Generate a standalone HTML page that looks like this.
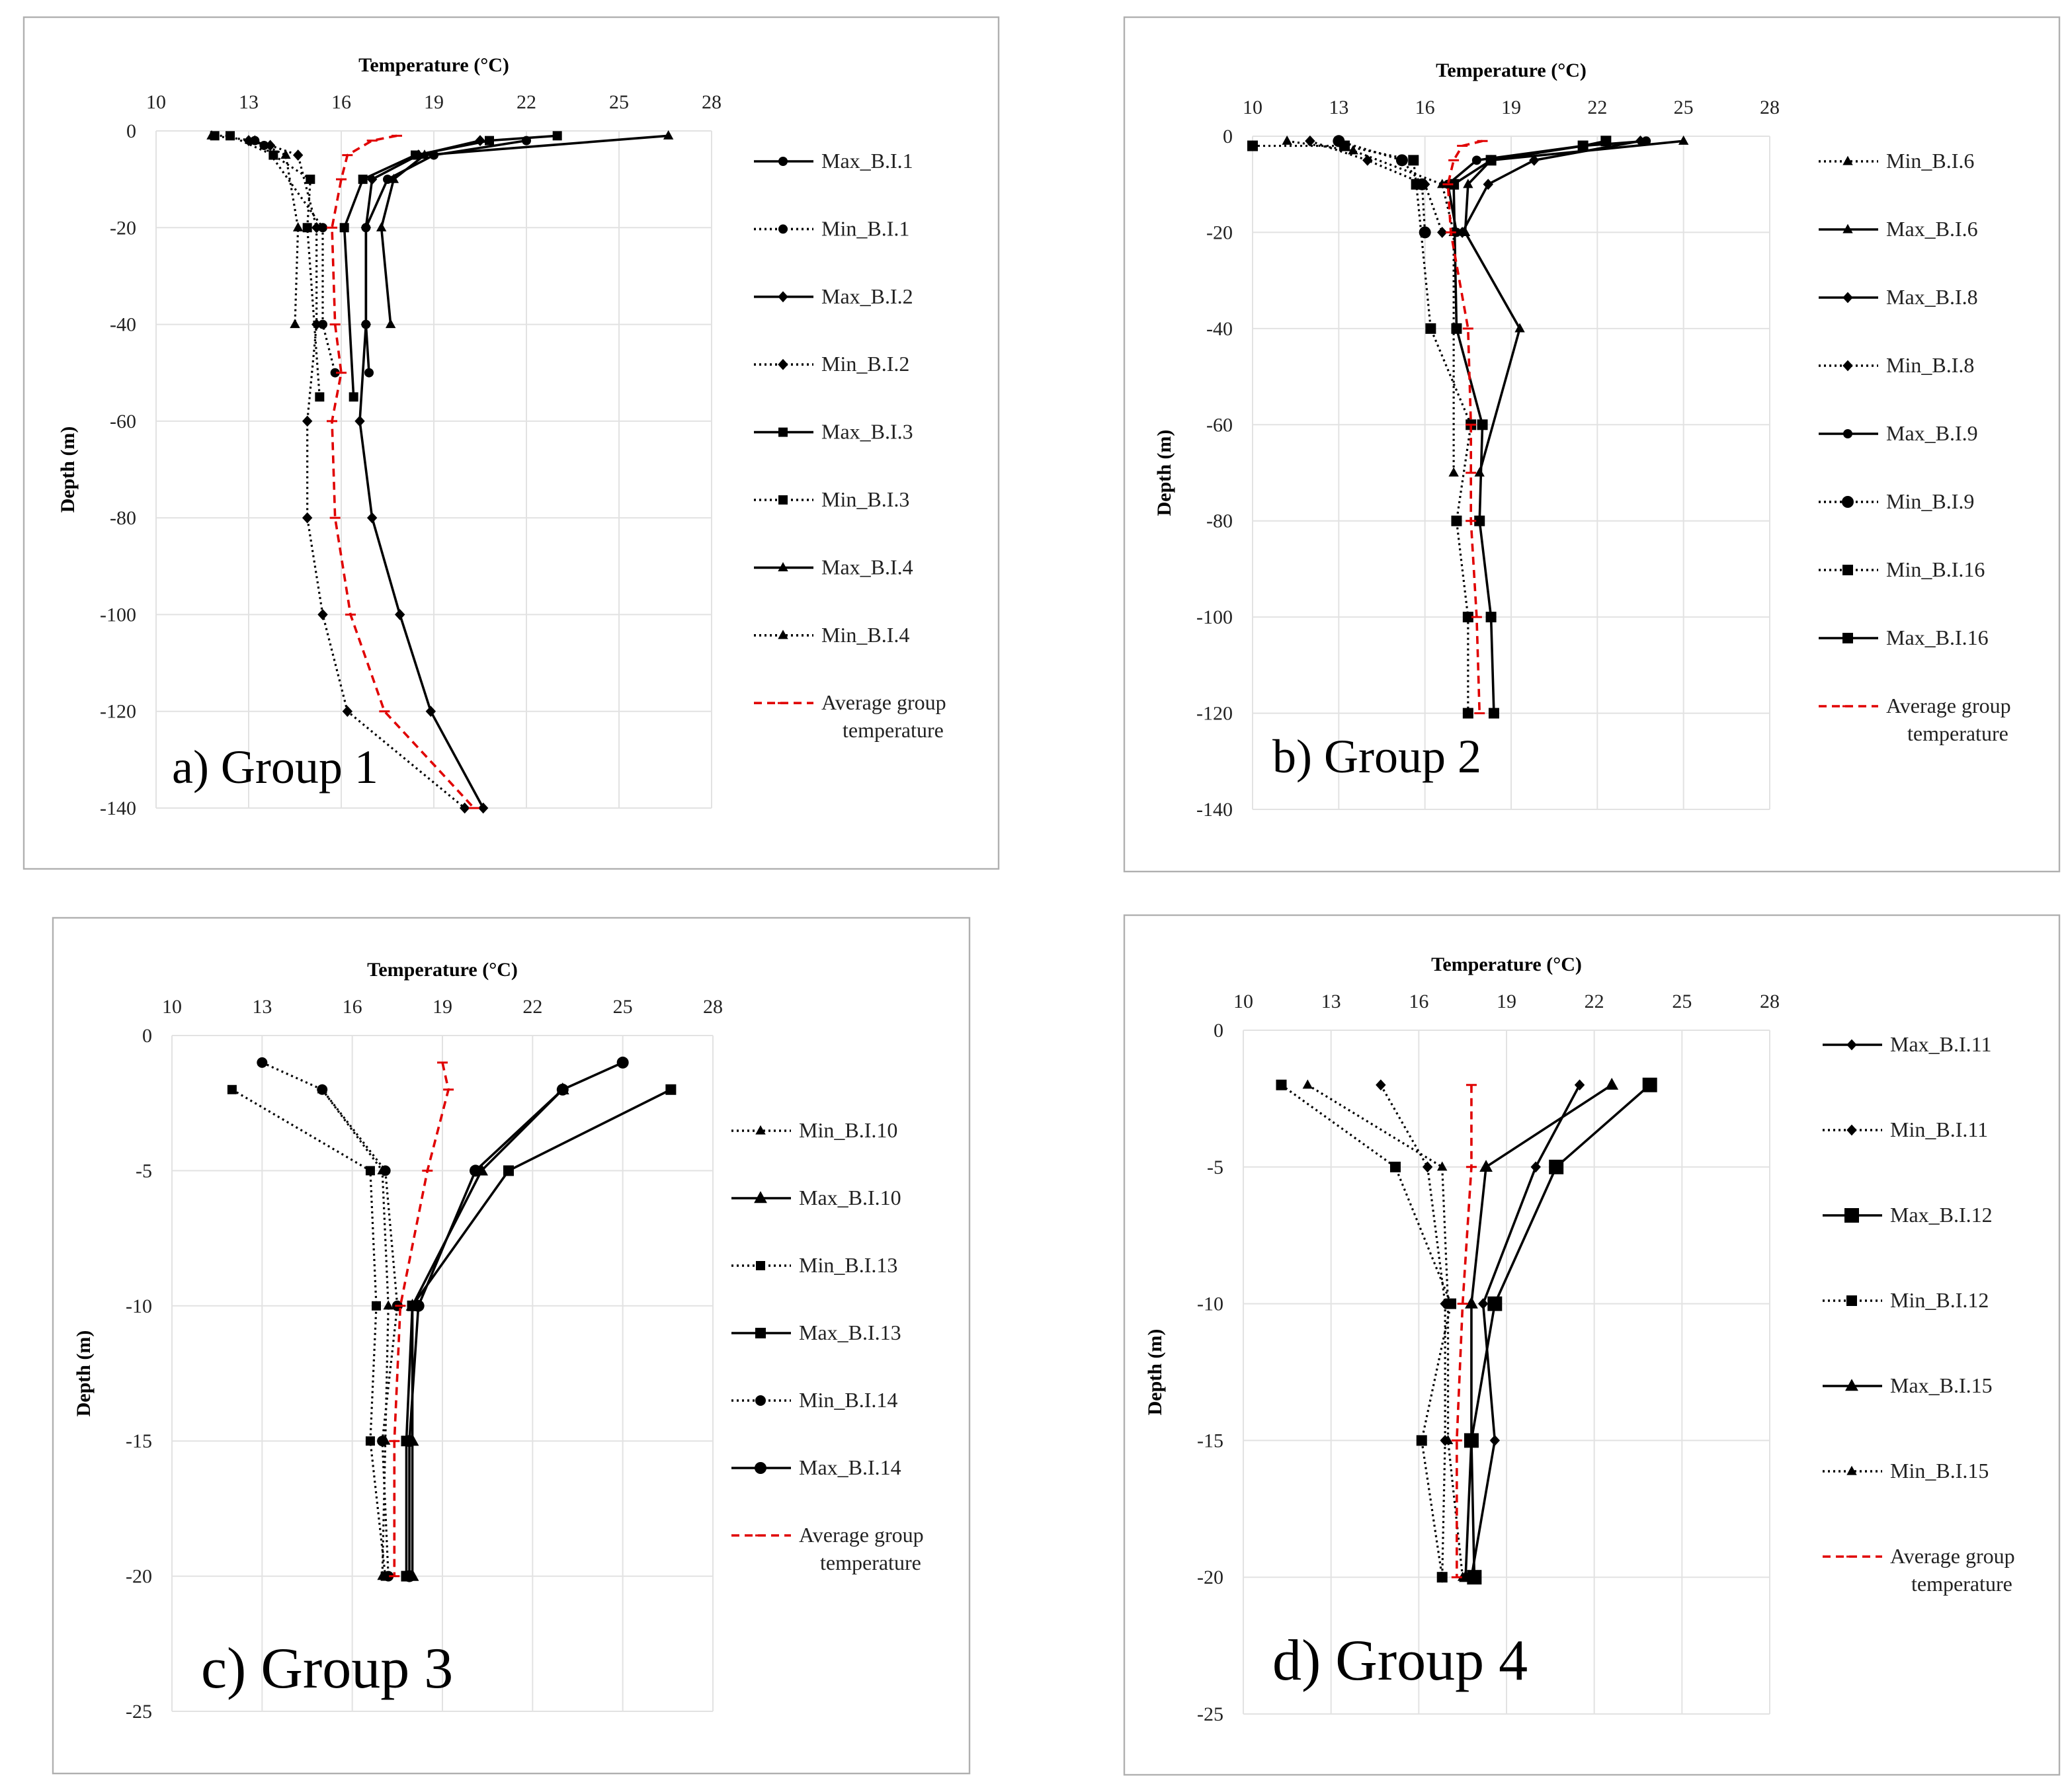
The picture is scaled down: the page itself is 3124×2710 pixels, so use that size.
<!DOCTYPE html>
<html><head><meta charset="utf-8">
<style>
html,body{margin:0;padding:0;background:#fff;}
svg{display:block;font-family:"Liberation Serif",serif;}
</style></head>
<body>
<svg id="fig" width="3124" height="2710" viewBox="0 0 1562 1355" xmlns="http://www.w3.org/2000/svg"></svg>
<script>
// ---------- data ----------
const xTicks = [10,13,16,19,22,25,28];
const yTicksA = [0,-20,-40,-60,-80,-100,-120,-140];
const yTicksC = [0,-5,-10,-15,-20,-25];

// Group 1
const g1Names = ["Max_B.I.1","Min_B.I.1","Max_B.I.2","Min_B.I.2","Max_B.I.3","Min_B.I.3","Max_B.I.4","Min_B.I.4","Average group|temperature"];
const g1Max1T=[22,19,17.5,16.8,16.8,16.9], g1Max1D=[-2,-5,-10,-20,-40,-50];
const g1Min1T=[13.2,13.5,15.4,15.4,15.8], g1Min1D=[-2,-3,-20,-40,-50];
const g1Max2T=[20.5,18.5,17,16.8,16.8,16.6,17,17.9,18.9,20.6], g1Max2D=[-2,-5,-10,-20,-40,-60,-80,-100,-120,-140];
const g1Min2T=[13,13.7,14.6,15.2,15.2,14.9,14.9,15.4,16.2,20], g1Min2D=[-2,-3,-5,-20,-40,-60,-80,-100,-120,-140];
const g1Max3T=[23,20.8,18.4,16.7,16.1,16.4], g1Max3D=[-1,-2,-5,-10,-20,-55];
const g1Min3T=[11.9,12.4,13.8,15,14.9,15.3], g1Min3D=[-1,-1,-5,-10,-20,-55];
const g1Max4T=[26.6,18.7,17.7,17.3,17.6], g1Max4D=[-1,-5,-10,-20,-40];
const g1Min4T=[11.8,13.2,14.2,14.6,14.5], g1Min4D=[-1,-2,-5,-20,-40];
const g1AvgT=[17.8,17,16.2,16,15.7,15.8,16,15.7,15.8,16.3,17.4,20.3], g1AvgD=[-1,-2,-5,-10,-20,-40,-50,-60,-80,-100,-120,-140];

// Group 2
const g2Names = ["Min_B.I.6","Max_B.I.6","Max_B.I.8","Min_B.I.8","Max_B.I.9","Min_B.I.9","Min_B.I.16","Max_B.I.16","Average group|temperature"];
const g2Min6T=[11.2,13.5,16.6,17,17], g2Min6D=[-1,-3,-10,-20,-70];
const g2Max6T=[25,18.3,17.5,17.4,19.3,17.9], g2Max6D=[-1,-5,-10,-20,-40,-70];
const g2Max8T=[23.5,19.8,18.2,17.3], g2Max8D=[-1,-5,-10,-20];
const g2Min8T=[12,14,16,16.6], g2Min8D=[-1,-5,-10,-20];
const g2Max9T=[23.7,21.5,17.8,16.8,17.1], g2Max9D=[-1,-2,-5,-10,-20];
const g2Min9T=[13,15.2,15.9,16], g2Min9D=[-1,-5,-10,-20];
const g2Min16T=[10,13.2,15.6,15.7,16.2,17.6,17.1,17.5,17.5], g2Min16D=[-2,-2,-5,-10,-40,-60,-80,-100,-120];
const g2Max16T=[22.3,21.5,18.3,17,17.1,18,17.9,18.3,18.4], g2Max16D=[-1,-2,-5,-10,-40,-60,-80,-100,-120];
const g2AvgT=[18,17.3,17,16.8,16.9,17.5,17.6,17.6,17.6,17.8,17.9], g2AvgD=[-1,-2,-5,-10,-20,-40,-60,-70,-80,-100,-120];

// Group 3
const g3Names = ["Min_B.I.10","Max_B.I.10","Min_B.I.13","Max_B.I.13","Min_B.I.14","Max_B.I.14","Average group|temperature"];
const g3D=[-2,-5,-10,-15,-20], g3D6=[-1,-2,-5,-10,-15,-20];
const g3Min10T=[15,17,17.2,17.1,17], g3Max10T=[23,20.3,18,18,18];
const g3Min13T=[12,16.6,16.8,16.6,17.1], g3Max13T=[26.6,21.2,18,17.8,17.8];
const g3Min14T=[13,15,17.1,17.5,17,17.2], g3Max14T=[25,23,20.1,18.2,17.9,17.9];
const g3AvgT=[19,19.2,18.5,17.6,17.4,17.4];

// Group 4
const g4Names = ["Max_B.I.11","Min_B.I.11","Max_B.I.12","Min_B.I.12","Max_B.I.15","Min_B.I.15","Average group|temperature"];
const g4D=[-2,-5,-10,-15,-20];
const g4Max11T=[21.5,20,18.2,18.6,17.8], g4Min11T=[14.7,16.3,16.9,16.9,16.8];
const g4Max12T=[23.9,20.7,18.6,17.8,17.9], g4Min12T=[11.3,15.2,17.1,16.1,16.8];
const g4Max15T=[22.6,18.3,17.8,17.8,17.6], g4Min15T=[12.2,16.8,17,17,17.5];
const g4AvgT=[17.8,17.8,17.5,17.3,17.3];

// ---------- drawing ----------
const NS="http://www.w3.org/2000/svg";
const svg=document.getElementById('fig');
function mk(tag,attrs,parent){const e=document.createElementNS(NS,tag);for(const k in attrs)e.setAttribute(k,attrs[k]);(parent||svg).appendChild(e);return e;}

function marker(g,type,x,y,s){
  let e;
  if(type==='circle'){e=mk('circle',{cx:x,cy:y,r:s},g);}
  else if(type==='square'){e=mk('rect',{x:x-s,y:y-s,width:2*s,height:2*s},g);}
  else if(type==='diamond'){e=mk('polygon',{points:`${x},${y-s*1.2} ${x+s*1.1},${y} ${x},${y+s*1.2} ${x-s*1.1},${y}`},g);}
  else if(type==='triangle'){e=mk('polygon',{points:`${x},${y-s*1.2} ${x+s*1.1},${y+s*0.8} ${x-s*1.1},${y+s*0.8}`},g);}
  else if(type==='dash'){e=mk('line',{x1:x-4,y1:y,x2:x+4,y2:y,stroke:'#e00000','stroke-width':1.5},g);return;}
  e.setAttribute('fill','#000');
}

function panel(p){
  const g=mk('g',{});
  
  
  const fr=mk('rect',{x:p.frame[0],y:p.frame[1],width:p.frame[2]-p.frame[0],height:p.frame[3]-p.frame[1],fill:'#fff',stroke:'#b0b0b0','stroke-width':1.2},g);
  
  
  const X=t=>p.x0+(t-10)*(p.x1-p.x0)/18;
  const Y=d=>p.y0+(d/p.yMin)*(p.y1-p.y0);
  // grid
  const grid=mk('g',{},g);
  
  
  xTicks.forEach(t=>mk('line',{x1:X(t),y1:Y(0),x2:X(t),y2:Y(p.yMin),stroke:'#e2e2e2','stroke-width':1},grid));
  p.yTicks.forEach(d=>mk('line',{x1:X(10),y1:Y(d),x2:X(28),y2:Y(d),stroke:'#e2e2e2','stroke-width':1},grid));
  // ticks labels
  const xl=mk('g',{'font-size':15,'text-anchor':'middle',fill:'#222'},g);
  
  
  xTicks.forEach(t=>{const e=mk('text',{x:X(t),y:Y(0)-17},xl);e.textContent=t;});
  const yl=mk('g',{'font-size':15,'text-anchor':'end',fill:'#222'},g);
  
  
  p.yTicks.forEach(d=>{const e=mk('text',{x:X(10)-15,y:Y(d)+5},yl);e.textContent=d;});
  const xt=mk('text',{x:(X(10)+X(28))/2,y:Y(0)-45,'font-size':15,'font-weight':'bold','text-anchor':'middle'},g);
  xt.textContent='Temperature (°C)';
  
  
  const yc=(Y(0)+Y(p.yMin))/2, yx=X(10)-62;
  const yt=mk('text',{x:yx,y:yc,'font-size':15,'font-weight':'bold','text-anchor':'middle',transform:`rotate(-90 ${yx} ${yc})`},g);
  yt.textContent='Depth (m)';
  
  
  // series
  p.series.forEach((s,i)=>{
    const sg=mk('g',{},g);
    
    
    const pts=s.T.map((t,k)=>X(t)+','+Y(s.D[k])).join(' ');
    const red=s.m==='dash';
    mk('polyline',{points:pts,fill:'none',stroke:red?'#e00000':'#000','stroke-width':red?1.8:(s.dot?1.6:1.8),'stroke-dasharray':red?'6,4':(s.dot?'1.5,2.5':'none')},sg);
    s.T.forEach((t,k)=>marker(sg,s.m,X(t),Y(s.D[k]),s.sz||3.5));
  });
  // legend
  const lg=mk('g',{},g);
  
  
  p.series.forEach((s,i)=>{
    const ly=p.leg[1]+i*p.leg[2];
    const le=mk('g',{},lg);
    
    
    const red=s.m==='dash';
    mk('line',{x1:p.leg[0],y1:ly,x2:p.leg[0]+45,y2:ly,stroke:red?'#e00000':'#000','stroke-width':1.8,'stroke-dasharray':red?'6,4':(s.dot?'1.5,2.5':'none')},le);
    marker(le,s.m,p.leg[0]+22,ly,s.sz||3.5);
    const parts=p.names[i].split('|');
    parts.forEach((tx,j)=>{const e=mk('text',{x:p.leg[0]+51+(j?16:0),y:ly+5+j*21,'font-size':16,fill:'#222'},le);e.textContent=tx;});
  });
  const gl=mk('text',{x:p.lab[0],y:p.lab[1],'font-size':p.lab[2]},g);
  gl.textContent=p.label;
  
  
}

const S=(T,D,m,dot,sz)=>({T,D,m,dot,sz});
panel({name:'panel-group-1',frame:[18,13,755,657],x0:118,x1:538,y0:99,y1:611,yMin:-140,yTicks:yTicksA,
 names:g1Names,leg:[570,122,51.2],lab:[130,592,36],label:'a)   Group 1',
 series:[S(g1Max1T,g1Max1D,'circle',false),S(g1Min1T,g1Min1D,'circle',true),S(g1Max2T,g1Max2D,'diamond',false),S(g1Min2T,g1Min2D,'diamond',true),
 S(g1Max3T,g1Max3D,'square',false),S(g1Min3T,g1Min3D,'square',true),S(g1Max4T,g1Max4D,'triangle',false),S(g1Min4T,g1Min4D,'triangle',true),S(g1AvgT,g1AvgD,'dash',false)]});
panel({name:'panel-group-2',frame:[850,13,1557,659],x0:947,x1:1338,y0:103,y1:612,yMin:-140,yTicks:yTicksA,
 names:g2Names,leg:[1375,122,51.5],lab:[962,584,36],label:'b)   Group 2',
 series:[S(g2Min6T,g2Min6D,'triangle',true),S(g2Max6T,g2Max6D,'triangle',false),S(g2Max8T,g2Max8D,'diamond',false),S(g2Min8T,g2Min8D,'diamond',true),
 S(g2Max9T,g2Max9D,'circle',false),S(g2Min9T,g2Min9D,'circle',true,4.5),S(g2Min16T,g2Min16D,'square',true,4),S(g2Max16T,g2Max16D,'square',false,4),S(g2AvgT,g2AvgD,'dash',false)]});
panel({name:'panel-group-3',frame:[40,694,733,1341],x0:130,x1:539,y0:783,y1:1294,yMin:-25,yTicks:yTicksC,
 names:g3Names,leg:[553,855,51],lab:[152,1276,44],label:'c) Group 3',
 series:[S(g3Min10T,g3D,'triangle',true),S(g3Max10T,g3D,'triangle',false,4.5),S(g3Min13T,g3D,'square',true),S(g3Max13T,g3D,'square',false,4),
 S(g3Min14T,g3D6,'circle',true,4),S(g3Max14T,g3D6,'circle',false,4.5),S(g3AvgT,g3D6,'dash',false)]});
panel({name:'panel-group-4',frame:[850,692,1557,1342],x0:940,x1:1338,y0:779,y1:1296,yMin:-25,yTicks:yTicksC,
 names:g4Names,leg:[1378,790,64.5],lab:[962,1270,44],label:'d) Group 4',
 series:[S(g4Max11T,g4D,'diamond',false),S(g4Min11T,g4D,'diamond',true),S(g4Max12T,g4D,'square',false,5.5),S(g4Min12T,g4D,'square',true,4),
 S(g4Max15T,g4D,'triangle',false,4.5),S(g4Min15T,g4D,'triangle',true),S(g4AvgT,g4D,'dash',false)]});
</script>
</body></html>
